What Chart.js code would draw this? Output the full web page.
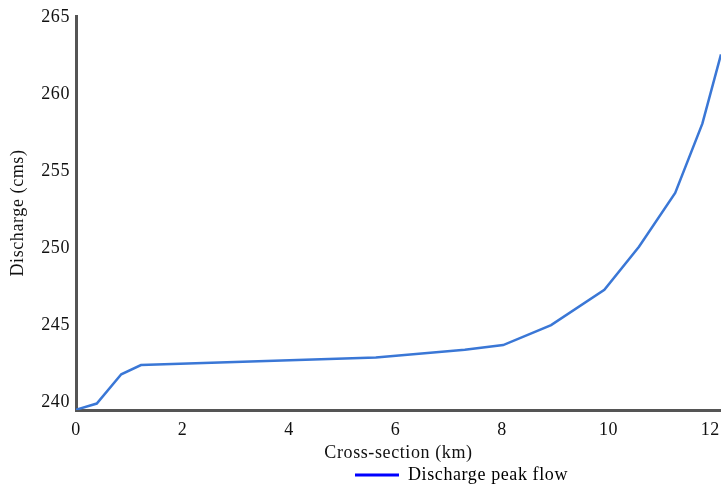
<!DOCTYPE html>
<html>
<head>
<meta charset="utf-8">
<script src="https://cdn.jsdelivr.net/npm/chart.js@4/dist/chart.umd.min.js"></script>
<style>
html,body{margin:0;padding:0;background:#fff;}
#wrap{width:721px;height:484px;position:relative;}
</style>
</head>
<body>
<div id="wrap"><canvas id="c" width="721" height="484"></canvas></div>
<script>
const crossSectionKm = [0, 0.39, 0.85, 1.22, 5.63, 7.3, 8.02, 8.92, 9.92, 10.57, 11.25, 11.76, 12.11];
const dischargeCms   = [239.5, 239.9, 241.8, 242.4, 242.9, 243.4, 243.7, 245.0, 247.3, 250.1, 253.6, 258.1, 262.6];
const xTickValues = [0, 2, 4, 6, 8, 10, 12];
const yTickValues = [240, 245, 250, 255, 260, 265];
const seriesName = 'Discharge peak flow';
const xTitle = 'Cross-section (km)';
const yTitle = 'Discharge (cms)';

const points = crossSectionKm.map((x, i) => ({x: x, y: dischargeCms[i]}));
const FONT = 'Liberation Serif, Times New Roman, serif';

const spacingPlugin = {
  id: 'spacing',
  beforeInit(chart) { chart.ctx.letterSpacing = '0.6px'; },
  beforeLayout(chart) {
    chart.ctx.letterSpacing = '0.6px';
    const lg = chart.legend;
    if (lg && !lg._fixedFit) {
      const orig = lg.fit.bind(lg);
      lg.fit = function () { orig(); this.height = 20; };
      lg._fixedFit = true;
    }
  },
  beforeDraw(chart) { chart.ctx.letterSpacing = '0.6px'; },
  afterLayout(chart) {
    const lg = chart.legend;
    if (lg) { lg.left += 101; lg.right += 101; }
  }
};

new Chart(document.getElementById('c'), {
  type: 'line',
  data: {
    datasets: [{
      label: seriesName,
      data: points,
      borderColor: '#3a77d6',
      borderWidth: 2.5,
      pointRadius: 0,
      tension: 0,
      fill: false
    }]
  },
  plugins: [spacingPlugin],
  options: {
    responsive: false,
    animation: false,
    devicePixelRatio: 1,
    layout: {padding: {top: 16, right: 0, left: 0, bottom: 0}},
    plugins: {
      tooltip: {enabled: false},
      legend: {
        position: 'bottom',
        labels: {
          font: {family: FONT, size: 18},
          color: '#111',
          boxWidth: 44,
          boxHeight: 3,
          padding: 2,
          generateLabels: (chart) => [{
            text: seriesName,
            fillStyle: '#0000ff',
            strokeStyle: '#0000ff',
            lineWidth: 0,
            hidden: false,
            datasetIndex: 0
          }]
        }
      }
    },
    scales: {
      x: {
        type: 'linear',
        min: 0,
        max: 12.11,
        afterBuildTicks: (s) => { s.ticks = xTickValues.map(v => ({value: v})); },
        afterFit: (s) => { s.height = 54; s.paddingLeft = 0; s.paddingRight = 0; },
        grid: {display: true, color: 'rgba(0,0,0,0)', drawTicks: false},
        border: {display: true, color: '#555', width: 3},
        ticks: {
          font: {family: FONT, size: 18}, color: '#111', padding: 9, maxRotation: 0, autoSkip: false,
          callback: (v) => v === xTickValues[xTickValues.length - 1] ? String(v) + '\u2002' : String(v)
        },
        title: {display: true, text: xTitle, font: {family: FONT, size: 18}, color: '#111', padding: {top: 2, bottom: 0}}
      },
      y: {
        type: 'linear',
        min: 239.48,
        max: 265.1,
        afterBuildTicks: (s) => { s.ticks = yTickValues.map(v => ({value: v})); },
        afterFit: (s) => { s.width = 76; s.paddingTop = 0; s.paddingBottom = 0; },
        grid: {display: true, color: 'rgba(0,0,0,0)', drawTicks: false},
        border: {display: true, color: '#555', width: 3},
        ticks: {font: {family: FONT, size: 18}, color: '#111', padding: 6, autoSkip: false},
        title: {display: true, text: yTitle, font: {family: FONT, size: 18}, color: '#111', padding: {top: 7, bottom: 0}}
      }
    }
  }
});
</script>
</body>
</html>
